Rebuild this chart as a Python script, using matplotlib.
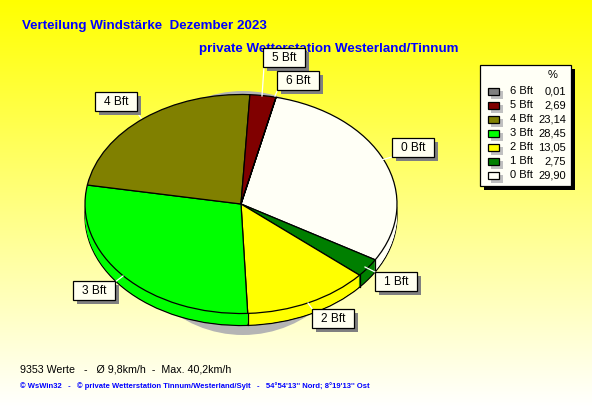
import numpy as np
import matplotlib
matplotlib.use("Agg")
import matplotlib.pyplot as plt
from matplotlib.patches import Rectangle, Ellipse

labels = ["0 Bft", "1 Bft", "2 Bft", "3 Bft", "4 Bft", "5 Bft", "6 Bft"]
shares = [29.90, 2.75, 13.05, 28.45, 23.14, 2.69, 0.01]
share_text = ["29,90", "2,75", "13,05", "28,45", "23,14", "2,69", "0,01"]
colors = ["#FFFFF6", "#007F00", "#FFFF00", "#00FF00", "#808000", "#800000", "#808080"]

W, H = 592, 407
CX, CY, RX, RY, DEPTH = 241, 204, 156, 109.5, 12
START = 77.0
FONT = "Liberation Sans"

fig = plt.figure(figsize=(W / 100, H / 100), dpi=100)

# background gradient + overlay in pixel coordinates
bg = fig.add_axes([0, 0, 1, 1], zorder=0)
bg.set_xlim(0, W); bg.set_ylim(H, 0); bg.axis("off")
grad = np.ones((H, 1, 3))
grad[:, 0, 2] = np.linspace(0, 1, H)
bg.imshow(grad, extent=(0, W, H, 0), aspect="auto", zorder=0)
bg.set_xlim(0, W); bg.set_ylim(H, 0)
bg.add_patch(Ellipse((243, 213), 240, 244, fc="#B4B4B4", ec="none", zorder=1))
bg.text(22, 26, "Verteilung Windstärke  Dezember 2023", color="#0000FF", fontsize=9.6,
        fontweight="bold", family=FONT, va="center", zorder=2)
bg.text(199, 49, "private Wetterstation Westerland/Tinnum", color="#0000FF", fontsize=9.6,
        fontweight="bold", family=FONT, va="center", zorder=2)

# pie: one data unit is RX by RY pixels
ax = fig.add_axes([0, 0, 1, 1], zorder=1)
ax.patch.set_alpha(0)


def draw_pie(offset, edge):
    ax.pie(shares, colors=colors, startangle=START, counterclock=False,
           center=(0, -offset / RY), radius=1,
           wedgeprops=dict(edgecolor="black" if edge else "none",
                           linewidth=0.9 if edge else 0))


draw_pie(DEPTH, True)
for off in range(DEPTH - 1, 0, -1):
    draw_pie(off, False)

# outer side lines at visible slice boundaries
edges = START - np.cumsum(shares) * 3.6
for a in edges[:3]:
    x, y = np.cos(np.radians(a)), np.sin(np.radians(a))
    if y < 0:
        ax.plot([x, x], [y, y - DEPTH / RY], color="black", lw=0.9, zorder=5)
draw_pie(0, True)
for art in ax.patches[-len(shares):]:
    art.set_zorder(6)

ax.set_aspect("auto")
ax.set_xlim(-CX / RX, (W - CX) / RX)
ax.set_ylim((CY - H) / RY, CY / RY)
ax.axis("off")

# overlay
ov = fig.add_axes([0, 0, 1, 1], zorder=2)
ov.set_xlim(0, W); ov.set_ylim(H, 0); ov.axis("off"); ov.patch.set_alpha(0)

leaders = {
    "0 Bft": ((381, 160), (392, 157)),
    "1 Bft": ((365, 267), (375, 272)),
    "2 Bft": ((308, 303), (313, 310)),
    "3 Bft": ((123, 276), (115, 282)),
    "4 Bft": ((141, 118), (136, 111)),
    "5 Bft": ((262, 96), (264, 67)),
    "6 Bft": ((275, 96), (278, 89)),
}
boxes = {
    "0 Bft": (392, 138),
    "1 Bft": (375, 272),
    "2 Bft": (312, 309),
    "3 Bft": (73, 281),
    "4 Bft": (95, 92),
    "5 Bft": (263, 48),
    "6 Bft": (277, 71),
}
for lab in labels:
    (x0, y0), (x1, y1) = leaders[lab]
    ov.plot([x0, x1], [y0, y1], color="white", lw=0.9, zorder=2)
for lab in ["5 Bft", "6 Bft", "0 Bft", "1 Bft", "2 Bft", "3 Bft", "4 Bft"]:
    x, y = boxes[lab]
    ov.add_patch(Rectangle((x + 4, y + 4), 42, 19, fc="#808080", ec="none", zorder=3))
    ov.add_patch(Rectangle((x, y), 42, 19, fc="#FFFFF0", ec="black", lw=0.9, zorder=4))
    ov.text(x + 21.5, y + 10, lab, fontsize=8.6, family=FONT, ha="center", va="center", zorder=5)

# legend
ov.add_patch(Rectangle((484, 69), 91, 121, fc="black", ec="none", zorder=3))
ov.add_patch(Rectangle((480, 65), 91, 121, fc="#FFFFF6", ec="black", lw=0.9, zorder=4))
ov.text(553, 75, "%", fontsize=8, family=FONT, ha="center", va="center", zorder=5)
for i, (lab, txt, col) in enumerate(zip(labels[::-1], share_text[::-1], colors[::-1])):
    y = 91 + 14 * i
    ov.add_patch(Rectangle((491, y), 12, 8, fc="#C0C0C0", ec="none", zorder=5))
    ov.add_patch(Rectangle((487.5, y - 3.5), 11, 7, fc=col, ec="black", lw=0.9, zorder=6))
    ov.text(510, y, lab, fontsize=8, family=FONT, va="center", zorder=6)
    ov.text(566, y, txt, fontsize=8, family=FONT, va="center", ha="right", zorder=6)

# footer
ov.text(20, 369, "9353 Werte   -   Ø 9,8km/h  -  Max. 40,2km/h", fontsize=7.7,
        family=FONT, va="center", zorder=5)
ov.text(20, 386, "© WsWin32   -   © private Wetterstation Tinnum/Westerland/Sylt   -   "
        "54°54'13'' Nord; 8°19'13'' Ost", fontsize=5.5, fontweight="bold", color="#0000FF",
        family=FONT, va="center", zorder=5)

fig.savefig("out.png", dpi=100)
